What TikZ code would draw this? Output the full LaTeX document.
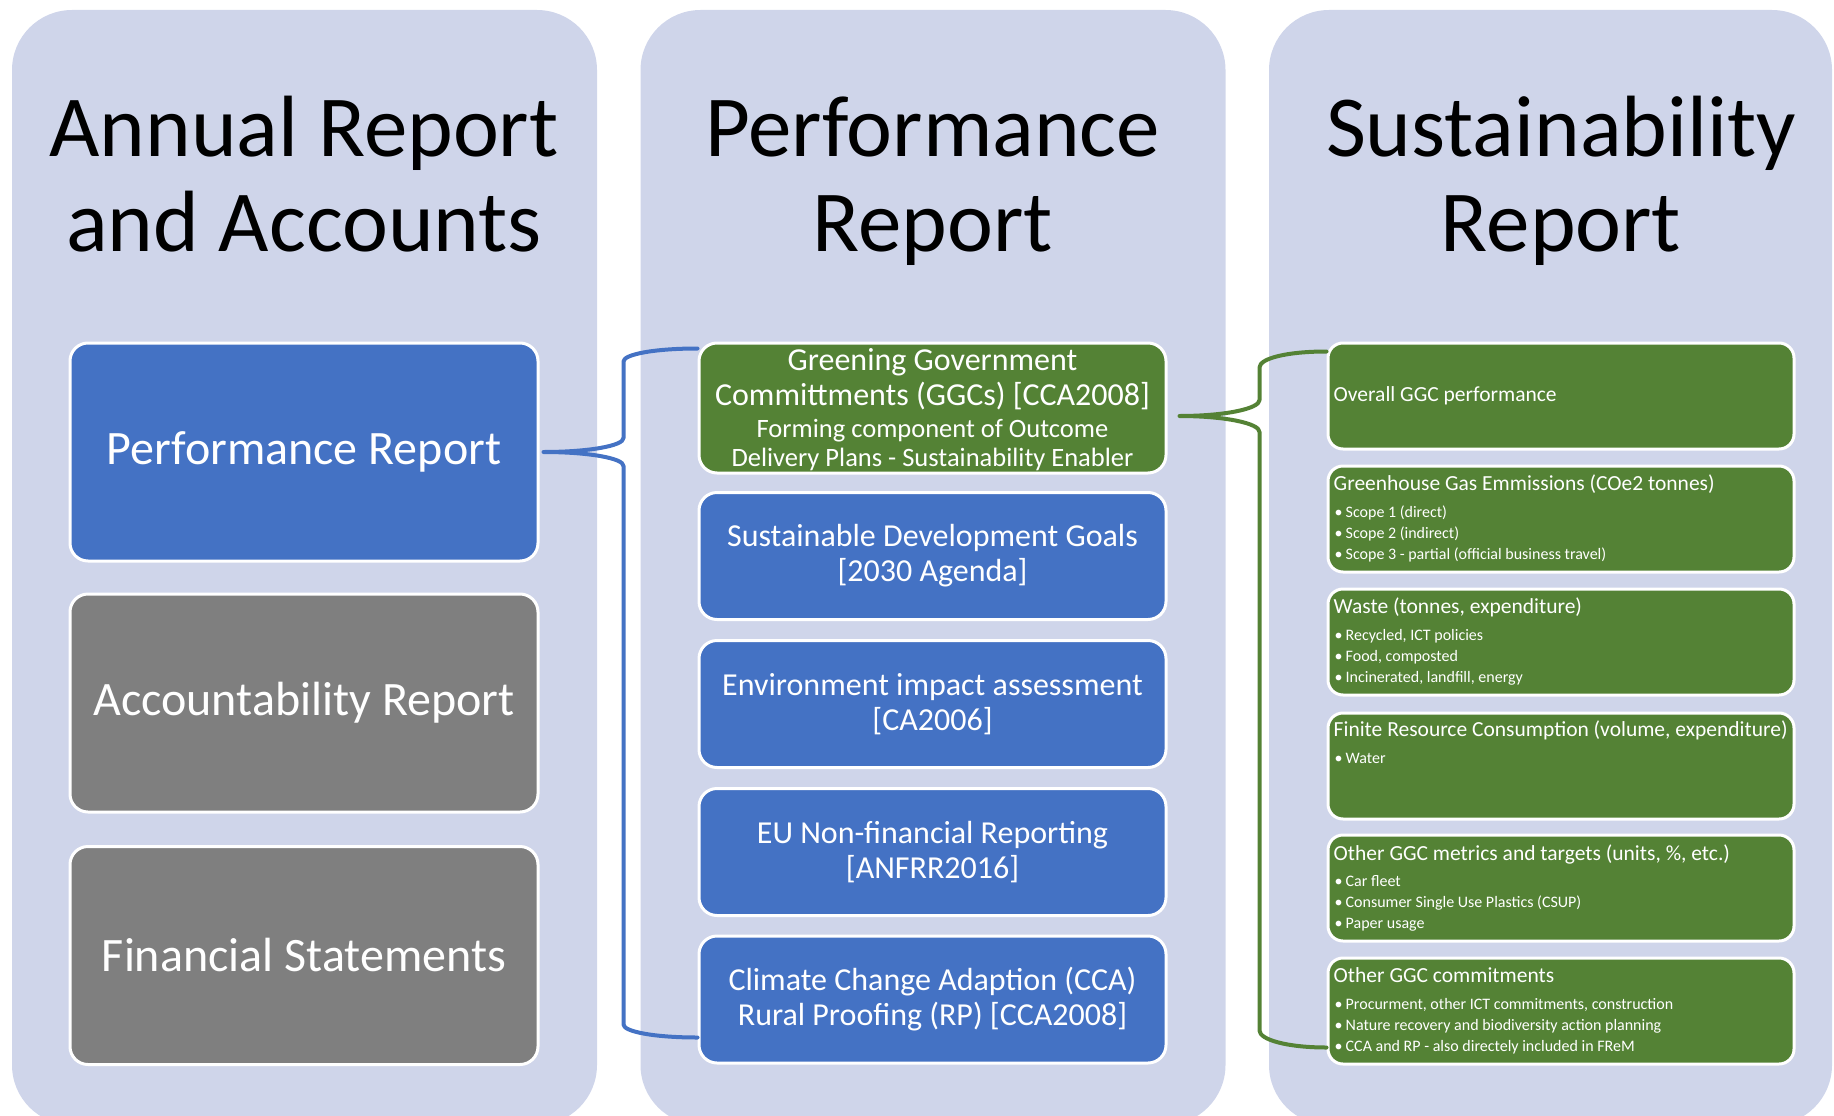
\documentclass[tikz,border=0pt]{standalone}
\usepackage{fontspec}
\setmainfont{Carlito}
\usetikzlibrary{calc}

\definecolor{panelfill}{HTML}{CFD5EA}
\definecolor{accblue}{HTML}{4472C4}
\definecolor{accgreen}{HTML}{548235}
\definecolor{accgray}{HTML}{7F7F7F}

% stacked lines; each row carries its own strut so spacing is exact
\newcommand\rowstrut[2]{\vrule height #1 depth #2 width 0pt\relax}
\newcommand\centerlines[1]{\vtop{\offinterlineskip\halign{\hfil##\hfil\cr#1\crcr}}}
\newcommand\leftlines[1]{\vtop{\offinterlineskip\halign{##\hfil\cr#1\crcr}}}
\newcommand\bul{\makebox[11pt][l]{\textbullet}}
\newcommand\li{\rowstrut{15pt}{6pt}\bul}

\begin{document}
\begin{tikzpicture}[x=1pt,y=-1pt,
  column/.style={fill=panelfill, rounded corners=60pt, inner sep=0pt,
    minimum width=585pt, minimum height=1115pt},
  card/.style={draw=white, line width=3pt, rounded corners=18pt, text=white,
    inner sep=0pt, align=center},
  bigcard/.style={card, minimum width=468pt, minimum height=218pt,
    font=\fontsize{48}{56}\selectfont},
  midcard/.style={card, fill=accblue, minimum width=467pt, minimum height=127pt,
    font=\fontsize{32}{35}\selectfont},
  metric/.style={card, fill=accgreen, rounded corners=15pt,
    minimum width=466pt, minimum height=106pt},
  heading/.style={font=\fontsize{87}{95}\selectfont, anchor=base, inner sep=0pt},
  mhead/.style={text=white, anchor=base west, inner sep=0pt,
    font=\fontsize{21.5}{26}\selectfont},
  mlist/.style={text=white, anchor=base west, inner sep=0pt,
    font=\fontsize{16}{21}\selectfont},
  brace/.style={line width=4pt, line join=round, line cap=round},
]
\useasboundingbox (0,0) rectangle (1834,1116);
\clip (0,0) rectangle (1834,1116);

% three background columns
\node[column] (col1) at (304.5,567.5) {};
\node[column] (col2) at (933,567.5) {};
\node[column, minimum width=563pt] (col3) at (1550.5,567.5) {};

% column headings
\node[heading] (t1) at (304,156) {\centerlines{\rowstrut{70pt}{25pt}Annual Report\cr\rowstrut{70pt}{25pt}and Accounts}};
\node[heading] (t2) at (932.5,156) {\centerlines{\rowstrut{70pt}{25pt}Performance\cr\rowstrut{70pt}{25pt}Report}};
\node[heading] (t3) at (1561,156) {\centerlines{\rowstrut{70pt}{25pt}Sustainability\cr\rowstrut{70pt}{25pt}Report}};

% first column
\node[bigcard, fill=accblue] (pr) at (304,452) {Performance Report};
\node[bigcard, fill=accgray] (ar) at (304,703) {Accountability Report};
\node[bigcard, fill=accgray] (fs) at (304,955.5) {Financial Statements};

% second column
\node[midcard, fill=accgreen, minimum height=130pt] (ggc) at (932.5,408) {};
\node[midcard] (sdg) at (932.5,556) {Sustainable Development Goals\\{}[2030 Agenda]};
\node[midcard] (eia) at (932.5,704) {Environment impact assessment\\{}[CA2006]};
\node[midcard] (eu)  at (932.5,852) {EU Non-financial Reporting\\{}[ANFRR2016]};
\node[midcard] (cca) at (932.5,999.5) {Climate Change Adaption (CCA)\\Rural Proofing (RP) [CCA2008]};
\node[anchor=base, text=white, inner sep=0pt] (ggctext) at (932.5,370) {\centerlines{%
  \rowstrut{25pt}{10pt}\fontsize{32}{35}\selectfont Greening Government\cr
  \rowstrut{25pt}{10pt}\fontsize{32}{35}\selectfont Committments (GGCs) [CCA2008]\cr
  \rowstrut{22pt}{7pt}\fontsize{26.5}{29}\selectfont Forming component of Outcome\cr
  \rowstrut{22pt}{7pt}\fontsize{26.5}{29}\selectfont Delivery Plans - Sustainability Enabler}};

% third column
\node[metric] (ov) at (1561,396) {};
\node[metric] (gh) at (1561,519) {};
\node[metric] (ws) at (1561,642) {};
\node[metric] (fr) at (1561,766) {};
\node[metric] (om) at (1561,888) {};
\node[metric] (oc) at (1561,1011) {};

\node[mhead] (ovh) at ($(ov.north west)+(7,60)$) {Overall GGC performance};

\node[mhead] (ghh) at ($(gh.north west)+(7,26)$) {Greenhouse Gas Emmissions (COe2 tonnes)};
\node[mlist] (ghl) at ($(gh.north west)+(8,53)$) {\leftlines{%
  \li Scope 1 (direct)\cr
  \li Scope 2 (indirect)\cr
  \li Scope 3 - partial (official business travel)}};

\node[mhead] (wsh) at ($(ws.north west)+(7,26)$) {Waste (tonnes, expenditure)};
\node[mlist] (wsl) at ($(ws.north west)+(8,53)$) {\leftlines{%
  \li Recycled, ICT policies\cr
  \li Food, composted\cr
  \li Incinerated, landfill, energy}};

\node[mhead] (frh) at ($(fr.north west)+(7,25)$) {Finite Resource Consumption (volume, expenditure)};
\node[mlist] (frl) at ($(fr.north west)+(8,52)$) {\bul Water};

\node[mhead] (omh) at ($(om.north west)+(7,27)$) {Other GGC metrics and targets (units, \%, etc.)};
\node[mlist] (oml) at ($(om.north west)+(8,53)$) {\leftlines{%
  \li Car fleet\cr
  \li Consumer Single Use Plastics (CSUP)\cr
  \li Paper usage}};

\node[mhead] (och) at ($(oc.north west)+(7,26)$) {Other GGC commitments};
\node[mlist] (ocl) at ($(oc.north west)+(8,53)$) {\leftlines{%
  \li Procurment, other ICT commitments, construction\cr
  \li Nature recovery and biodiversity action planning\cr
  \li CCA and RP - also directely included in FReM}};

% blue brace: Performance Report -> second column
\coordinate (btip) at ([xshift=4pt]pr.east);
\coordinate (btop) at ([yshift=-7pt]ggc.north west);
\coordinate (bbot) at ([yshift=27pt]cca.south west);
\coordinate (bx) at ($(btip)+(80,0)$);
\draw[brace, accblue]
  (btop) .. controls +(-44,0) and +(0,-7) .. ($(bx|-btop)+(0,13)$)
  -- ($(btip)+(80,-14)$) .. controls +(0,8) and +(44,0) .. (btip)
  .. controls +(44,0) and +(0,-8) .. ($(btip)+(80,14)$)
  -- ($(bx|-bbot)+(0,-13)$) .. controls +(0,7) and +(-44,0) .. (bbot);

% green brace: GGC box -> third column
\coordinate (gtip) at ([shift={(12pt,-8pt)}]ggc.east);
\coordinate (gtop) at ([yshift=-10pt]ov.north west);
\coordinate (gbot) at ([yshift=18pt]oc.south west);
\coordinate (gx) at ($(gtip)+(80,0)$);
\draw[brace, accgreen]
  (gtop) .. controls +(-40,0) and +(0,-9) .. ($(gx|-gtop)+(0,16)$)
  -- ($(gtip)+(80,-16)$) .. controls +(0,9) and +(44,0) .. (gtip)
  .. controls +(44,0) and +(0,-9) .. ($(gtip)+(80,16)$)
  -- ($(gx|-gbot)+(0,-17)$) .. controls +(0,9) and +(-40,0) .. (gbot);
\end{tikzpicture}
\end{document}
